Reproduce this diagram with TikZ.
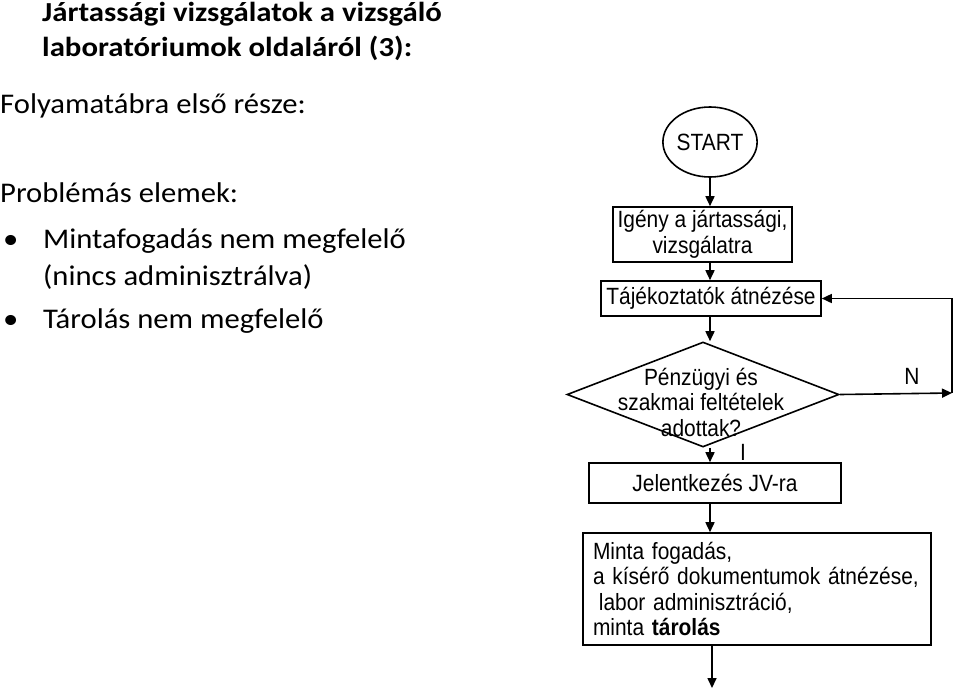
\documentclass[tikz,border=0pt]{standalone}
\usepackage{fontspec}
\setmainfont{Carlito}
\newfontfamily\titlefont[FakeStretch=1.12]{Carlito}
\newfontfamily\bodyfont[FakeStretch=1.075]{Carlito}
\newfontfamily\arialfont[FakeStretch=0.89]{Liberation Sans}
\usetikzlibrary{shapes.geometric, arrows.meta, positioning}

\begin{document}
\begin{tikzpicture}[
  x=1pt, y=-1pt,
  every node/.style={inner sep=0pt},
  slide/.style={font=\bodyfont\fontsize{28.5}{35}\selectfont, anchor=base west},
  slidetitle/.style={slide, font=\titlefont\fontsize{27.5}{34}\selectfont\bfseries},
  flow/.style={font=\arialfont\fontsize{23.5}{25.5}\selectfont},
  box/.style={flow, rectangle, draw, line width=1.6pt, align=center},
  arrow/.style={-{Triangle[length=10pt, width=9pt]}, line width=1.6pt},
]
  \useasboundingbox (0,0) rectangle (960,691);

  % left side text
  \node[slidetitle] (title1) at (42,21) {Jártassági vizsgálatok a vizsgáló};
  \node[slidetitle] (title2) at (42,56) {laboratóriumok oldaláról (3):};
  \node[slide] (part) at (0,113) {Folyamatábra első része:};
  \node[slide] (probl) at (0,202) {Problémás elemek:};
  \node[slide] (bull1) at (3,248) {•};
  \node[slide] (item1) at (43,248) {Mintafogadás nem megfelelő};
  \node[slide] (item1b) at (43,285) {(nincs adminisztrálva)};
  \node[slide] (bull2) at (3,328) {•};
  \node[slide] (item2) at (43,328) {Tárolás nem megfelelő};

  % flowchart
  \node[flow, ellipse, draw, line width=1.6pt, minimum width=86pt, minimum height=70pt] (start) at (710,142) {START};
  \node[box, minimum width=179pt, minimum height=55pt] (igeny) at (702.5,234.5) {Igény a jártassági,\\vizsgálatra};
  \node[box, minimum width=220pt, minimum height=35pt] (tajek) at (711,298.5) {Tájékoztatók átnézése};
  \node[diamond, draw, line width=1.6pt, minimum width=272pt, minimum height=105pt] (check) at (703,394.5) {};
  \node[flow, align=center] (checktext) at (701,402) {Pénzügyi és\\szakmai feltételek\\adottak?};
  \node[box, minimum width=252pt, minimum height=40pt] (jelent) at (715,483) {Jelentkezés JV-ra};
  \node[box, minimum height=112pt, text width=328pt, inner xsep=10pt, align=left] (minta) at (757,589)
    {Minta fogadás,\\a kísérő dokumentumok átnézése,\\\hspace*{0.25em}labor adminisztráció,\\minta \textbf{tárolás}};
  \coordinate (loop) at (952,393);
  \coordinate (next) at (712,688);

  \draw[arrow] (start) -- (start |- igeny.north);
  \draw[arrow] (igeny.south -| start) -- (tajek.north -| start);
  \draw[arrow] (tajek.south -| start) -- (start |- check.north);
  \draw[arrow] (check.south -| start) -- (jelent.north -| start);
  \draw[arrow] (jelent.south -| start) -- (minta.north -| start);
  \draw[arrow] (minta.south -| next) -- (next);

  \draw[arrow] (check.east) -- (loop);
  \draw[arrow] (loop) |- (tajek.east);
  \node[flow] (nlabel) at (912,376) {N};
  \node[flow] (ilabel) at (743,452) {I};
\end{tikzpicture}
\end{document}
